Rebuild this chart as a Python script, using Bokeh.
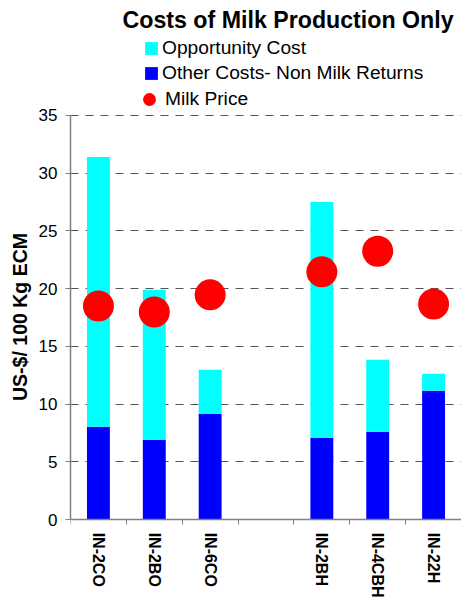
from bokeh.plotting import figure
from bokeh.models import (ColumnDataSource, FixedTicker, Legend, LegendItem,
                          Range1d)
from bokeh.embed import file_html
from bokeh.resources import INLINE

categories = ["IN-2CO", "IN-2BO", "IN-6CO", "", "IN-2BH", "IN-4CBH", "IN-22H"]
other_costs = [8.05, 6.92, 9.17, 0.0, 7.09, 7.61, 11.16]
opportunity_cost = [23.35, 12.98, 3.81, 0.0, 20.41, 6.23, 1.47]
milk_price = [18.5, 17.97, 19.46, float("nan"), 21.45, 23.24, 18.66]
y_ticks = [0, 5, 10, 15, 20, 25, 30, 35]

FONT = "Liberation Sans"
n = len(categories)
xpos = [i + 0.5 for i in range(n)]

# layout: the frame reaches from under the title down to the page bottom so
# that the legend and the category labels are not clipped; the value axis
# itself runs from 0 (at y=519 px) to 35 (at y=114 px).
W, H = 461, 597
TOP, LEFT = 35, 70
AXIS_MAX = 35
ZERO_PX, MAX_PX = 519, 114
ppu = (ZERO_PX - MAX_PX) / AXIS_MAX
y_start = -(H - ZERO_PX) / ppu
y_end = AXIS_MAX + (MAX_PX - TOP) / ppu

src = ColumnDataSource(dict(x=xpos, other=other_costs, opp=opportunity_cost,
                            milk=milk_price))

p = figure(width=W, height=H, output_backend="svg", toolbar_location=None,
           x_range=Range1d(0, n), y_range=Range1d(y_start, y_end),
           min_border_left=LEFT, min_border_right=0, min_border_top=TOP,
           min_border_bottom=0)
p.outline_line_color = None
p.background_fill_color = "white"
p.border_fill_color = "white"

p.title.text = "Costs of Milk Production Only"
p.title.text_font = FONT
p.title.text_font_size = "23.2px"
p.title.text_font_style = "bold"
p.title.text_color = "black"
p.title.align = "left"
p.title.offset = 52
p.title.standoff = 8

bars = p.vbar_stack(["other", "opp"], x="x", width=0.41, source=src,
                    color=["#0000FF", "#00FFFF"], line_color=None)
dots = p.scatter(x="x", y="milk", size=31, source=src, fill_color="#FF0000",
                 line_color=None)

# y axis
p.yaxis.ticker = FixedTicker(ticks=y_ticks)
p.yaxis.bounds = (0, AXIS_MAX)
p.yaxis.major_label_text_font = FONT
p.yaxis.major_label_text_font_size = "17px"
p.yaxis.major_label_text_color = "black"
p.yaxis.major_label_standoff = 8
p.yaxis.major_tick_out = 5
p.yaxis.major_tick_in = 0
p.yaxis.minor_tick_line_color = None
p.yaxis.axis_line_color = "#808080"
p.yaxis.axis_line_width = 1.5
p.yaxis.major_tick_line_color = "#808080"
p.yaxis.axis_label = "US-$/ 100 Kg ECM"
p.yaxis.axis_label_text_font = FONT
p.yaxis.axis_label_text_font_size = "19.5px"
p.yaxis.axis_label_text_font_style = "bold"
p.yaxis.axis_label_text_color = "black"
p.yaxis.axis_label_standoff = 5

# x axis at value 0: labels at centres, tick marks at boundaries
p.xaxis.fixed_location = 0
p.xaxis.ticker = FixedTicker(ticks=xpos, minor_ticks=list(range(n + 1)))
p.xaxis.major_label_overrides = {x: c for x, c in zip(xpos, categories)}
p.xaxis.major_label_orientation = "vertical"
p.xaxis.major_label_text_font = FONT
p.xaxis.major_label_text_font_size = "16px"
p.xaxis.major_label_text_font_style = "bold"
p.xaxis.major_label_text_color = "black"
p.xaxis.major_label_standoff = 8
p.xaxis.axis_line_color = "#808080"
p.xaxis.axis_line_width = 1.5
p.xaxis.major_tick_line_color = None
p.xaxis.major_tick_out = 0
p.xaxis.major_tick_in = 0
p.xaxis.minor_tick_line_color = "#808080"
p.xaxis.minor_tick_out = 5
p.xaxis.minor_tick_in = 0

p.xgrid.grid_line_color = None
p.ygrid.ticker = FixedTicker(ticks=y_ticks[1:])
p.ygrid.grid_line_color = "#555555"
p.ygrid.grid_line_dash = "8 7"
p.ygrid.grid_line_width = 1

leg1 = Legend(items=[LegendItem(label="Opportunity Cost", renderers=[bars[1]]),
                     LegendItem(label="Other Costs- Non Milk Returns", renderers=[bars[0]])],
              location=(73, H - 84), glyph_width=16, glyph_height=16,
              label_height=20, spacing=3, padding=0, margin=0,
              label_standoff=3, border_line_color=None,
              background_fill_alpha=0, label_text_font=FONT,
              label_text_font_size="19.2px", label_text_color="black")
leg2 = Legend(items=[LegendItem(label="Milk Price", renderers=[dots])],
              location=(63, H - 115), glyph_width=32, glyph_height=32,
              label_height=20, spacing=0, padding=0, margin=0,
              label_standoff=0, border_line_color=None,
              background_fill_alpha=0, label_text_font=FONT,
              label_text_font_size="19.2px", label_text_color="black")
p.add_layout(leg1)
p.add_layout(leg2)

open("out.html", "w").write(file_html(p, INLINE))
